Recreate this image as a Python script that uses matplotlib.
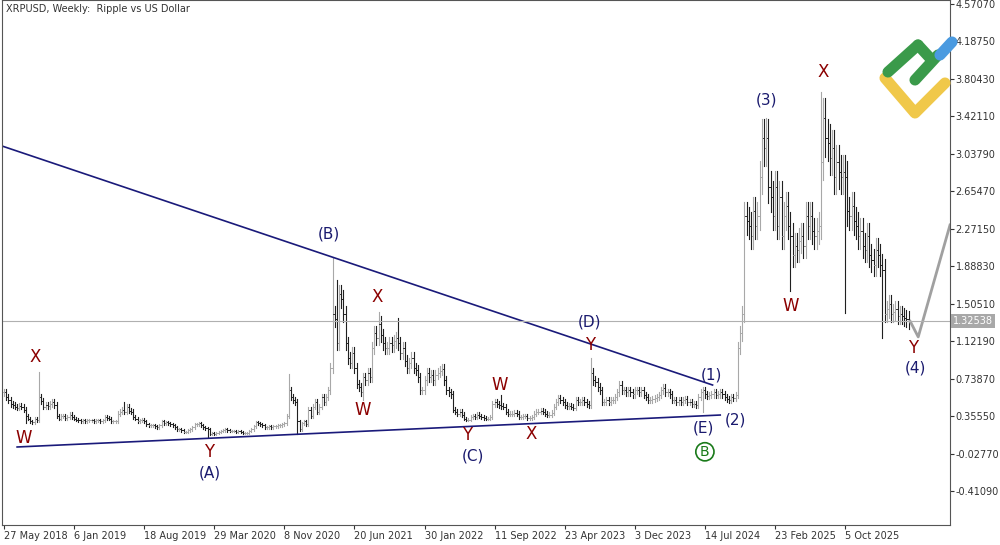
import matplotlib
matplotlib.use("Agg")
import matplotlib.pyplot as plt
from matplotlib.lines import Line2D

closes_2018 = [0.60,0.55,0.52,0.48,0.47,0.45,0.44,0.46,0.45,0.42,0.36,0.33,0.30,0.29,0.33,0.31,0.55,0.51,0.45,0.47,0.46,0.48,0.50,0.47,0.36,0.33,0.36,0.36,0.34,0.35,0.37,0.35]
closes_2019 = [0.33,0.32,0.31,0.30,0.31,0.30,0.31,0.31,0.31,0.30,0.31,0.31,0.30,0.31,0.35,0.34,0.33,0.30,0.30,0.30,0.38,0.40,0.42,0.40,0.45,0.41,0.40,0.35,0.33,0.30,0.31,0.32,0.30,0.27,0.26,0.26,0.26,0.25,0.24,0.26,0.30,0.28,0.29,0.28,0.27,0.26,0.24,0.22,0.22,0.21,0.19,0.19]
closes_2020 = [0.21,0.22,0.24,0.27,0.27,0.28,0.26,0.24,0.23,0.22,0.17,0.18,0.17,0.18,0.19,0.20,0.21,0.22,0.21,0.20,0.20,0.20,0.19,0.20,0.19,0.18,0.18,0.18,0.20,0.22,0.25,0.29,0.28,0.27,0.26,0.24,0.24,0.25,0.24,0.25,0.25,0.26,0.26,0.27,0.28,0.36,0.62,0.55,0.52,0.50,0.30,0.22]
closes_2021 = [0.28,0.30,0.27,0.42,0.36,0.45,0.50,0.40,0.45,0.55,0.50,0.55,0.62,0.85,1.40,1.35,1.10,1.60,1.55,1.40,1.10,0.95,0.90,1.00,0.85,0.68,0.65,0.60,0.75,0.72,0.80,0.75,1.05,1.20,1.15,1.30,1.18,1.10,1.05,1.05,1.10,1.08,1.12,1.15,1.10,1.00,1.05,0.92,0.85,0.90,0.95,0.85]
closes_2022 = [0.83,0.75,0.62,0.62,0.72,0.80,0.75,0.78,0.72,0.78,0.80,0.82,0.84,0.72,0.62,0.60,0.58,0.42,0.40,0.38,0.40,0.37,0.33,0.32,0.32,0.35,0.36,0.35,0.37,0.36,0.35,0.34,0.33,0.33,0.35,0.48,0.50,0.48,0.47,0.46,0.45,0.40,0.38,0.38,0.38,0.39,0.38,0.35,0.35,0.36,0.36,0.34]
closes_2023 = [0.34,0.35,0.38,0.40,0.40,0.41,0.40,0.38,0.37,0.37,0.39,0.45,0.50,0.54,0.52,0.50,0.47,0.46,0.46,0.45,0.44,0.52,0.50,0.50,0.52,0.50,0.48,0.47,0.80,0.72,0.70,0.65,0.62,0.50,0.50,0.52,0.50,0.52,0.52,0.55,0.60,0.67,0.62,0.62,0.60,0.62,0.60,0.58,0.62,0.62,0.60,0.62]
closes_2024 = [0.57,0.55,0.52,0.52,0.53,0.54,0.55,0.57,0.62,0.64,0.60,0.60,0.58,0.52,0.52,0.50,0.52,0.50,0.52,0.53,0.50,0.50,0.48,0.48,0.47,0.55,0.60,0.62,0.58,0.56,0.57,0.58,0.60,0.57,0.58,0.60,0.58,0.55,0.53,0.52,0.55,0.54,0.57,1.05,1.20,1.40,2.40,2.35,2.30,2.20,2.45,2.30]
closes_2025 = [2.40,2.80,3.20,3.10,3.20,2.70,2.60,2.40,2.70,2.30,2.60,2.20,2.40,2.50,2.30,2.20,2.00,2.10,2.05,2.15,2.20,2.10,2.40,2.30,2.40,2.25,2.20,2.25,2.30,2.95,3.40,3.20,3.15,3.00,3.10,2.80,2.95,2.85,2.80,2.85,2.80]
closes_late = [2.45,2.40,2.50,2.35,2.30,2.20,2.25,2.10,2.05,2.20,2.00,1.95,1.90,2.05,2.00,1.90,1.85,1.40,1.45,1.50,1.40,1.42,1.45,1.38,1.40,1.38,1.36,1.35,1.32538]

spike_weeks = [10, 16, 55, 93, 130, 134, 150, 152, 164, 171, 180, 211, 227, 240, 268, 319, 348, 359, 373, 384, 401]
spike_vals  = [0.28,0.81,0.50,0.14,0.79,0.17,1.97,1.75,0.52,1.42,1.36,0.32,0.57,0.32,0.95,0.40,3.40,1.63,3.67,1.41,1.15]

tick_weeks = [0,32,64,96,128,160,192,224,256,288,320,352,384]
tick_labels = ["27 May 2018","6 Jan 2019","18 Aug 2019","29 Mar 2020","8 Nov 2020","20 Jun 2021",
               "30 Jan 2022","11 Sep 2022","23 Apr 2023","3 Dec 2023","14 Jul 2024","23 Feb 2025","5 Oct 2025"]
ytick_vals = [4.5707,4.1875,3.8043,3.4211,3.0379,2.6547,2.2715,1.8883,1.5051,1.1219,0.7387,0.3555,-0.0277,-0.4109]

lower_line_w = [6, 327]; lower_line_p = [0.039, 0.366]
upper_line_w = [-0.9, 323.5]; upper_line_p = [3.118, 0.673]
proj_w = [413.7, 417.4, 431.9]; proj_p = [1.32538, 1.165, 2.31]

red_labels = [("X",14.1,0.96),("W",9.1,0.13),("Y",93.8,-0.01),("X",170.4,1.575),("W",164,0.42),
              ("Y",211.4,0.16),("W",226.4,0.67),("X",240.5,0.17),("Y",267.4,1.08),
              ("X",374,3.875),("W",359,1.48),("Y",415,1.05)]
blue_labels = [("(A)",93.8,-0.23),("(B)",148.5,2.22),("(C)",214,-0.05),("(D)",267.4,1.32),
               ("(1)",323,0.78),("(2)",334,0.31),("(E)",319.4,0.235),("(3)",348,3.59),("(4)",416,0.85)]

closes = closes_2018+closes_2019+closes_2020+closes_2021+closes_2022+closes_2023+closes_2024+closes_2025+closes_late
spikes = dict(zip(spike_weeks, spike_vals))

fig = plt.figure(figsize=(10,5.45), dpi=100)
ax = fig.add_axes([0.002, 0.0367, 0.948, 0.9633])
for i, c in enumerate(closes):
    o = closes[i-1] if i > 0 else c
    hi = max(o, c) * 1.06
    lo = min(o, c) * 0.94
    if i in spikes:
        v = spikes[i]
        if v > hi: hi = v
        elif v < lo: lo = v
    col = "#a8a8a8" if c >= o else "#202020"
    ax.plot([i, i], [lo, hi], color=col, lw=0.8)
    ax.plot([i-0.6, i], [o, o], color=col, lw=0.6)
    ax.plot([i, i+0.6], [c, c], color=col, lw=0.6)

ax.plot(lower_line_w, lower_line_p, color="#1a1a7a", lw=1.2)
ax.plot(upper_line_w, upper_line_p, color="#1a1a7a", lw=1.2)
ax.plot(proj_w, proj_p, color="#a0a0a0", lw=2)
ax.axhline(closes[-1], color="#b0b0b0", lw=0.8)

for t, w, p in red_labels:
    ax.text(w, p, t, color="#8b0000", fontsize=12, ha="center", va="center")
for t, w, p in blue_labels:
    ax.text(w, p, t, color="#1a1a6e", fontsize=11, ha="center", va="center")
ax.text(320, -0.01, "B", color="#1a7a1a", fontsize=10, ha="center", va="center",
        bbox=dict(boxstyle="circle,pad=0.15", fc="none", ec="#1a7a1a", lw=1.2))

ax.set_xlim(-0.9, 431.9)
ax.set_ylim(-0.759, 4.6116)
ax.yaxis.tick_right()
ax.set_yticks(ytick_vals)
ax.set_yticklabels([f"{v:.5f}" for v in ytick_vals])
ax.set_xticks(tick_weeks)
ax.set_xticklabels(tick_labels, ha="left")
ax.tick_params(labelsize=7, length=3, color="#333333", labelcolor="#333333", pad=1)
for s in ax.spines.values():
    s.set_color("#555555"); s.set_linewidth(0.8)
ax.text(1.003, closes[-1], f"{closes[-1]:.5f}", transform=ax.get_yaxis_transform(), fontsize=7,
        color="white", va="center", ha="left", bbox=dict(fc="#a8a8a8", ec="none", pad=1.5))
ax.text(0.004, 0.993, "XRPUSD, Weekly:  Ripple vs US Dollar", transform=ax.transAxes,
        fontsize=7, color="#333333", va="top")

# logo
fig.add_artist(Line2D([885/1000, 915/1000, 945/1000], [1-78/545, 1-113/545, 1-83/545],
                      color="#f0c84a", lw=8, solid_capstyle="round"))
fig.add_artist(Line2D([888/1000, 918/1000], [1-72/545, 1-45/545], color="#3a9a4a", lw=8, solid_capstyle="round"))
fig.add_artist(Line2D([918/1000, 930/1000], [1-45/545, 1-58/545], color="#3a9a4a", lw=8, solid_capstyle="round"))
fig.add_artist(Line2D([915/1000, 938/1000], [1-80/545, 1-55/545], color="#3a9a4a", lw=8, solid_capstyle="round"))
fig.add_artist(Line2D([940/1000, 952/1000], [1-55/545, 1-42/545], color="#4a9ae0", lw=8, solid_capstyle="round"))

fig.savefig("out.png", dpi=100)
